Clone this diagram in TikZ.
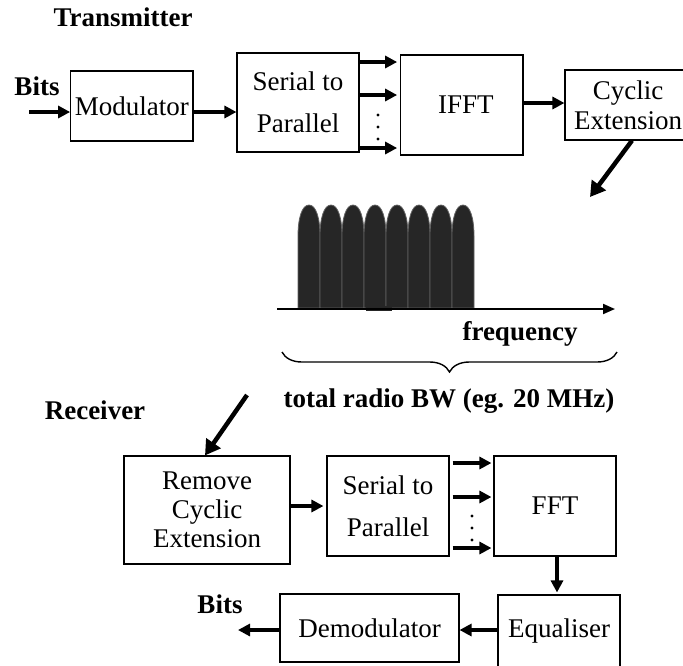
\documentclass[tikz,border=0pt]{standalone}
\usepackage{fontspec}
\setmainfont{Liberation Serif}
\usetikzlibrary{arrows.meta,decorations.pathreplacing}
\begin{document}
\begin{tikzpicture}[x=1pt,y=-1pt,
  box/.style={draw, line width=1.1pt, inner sep=0pt, align=center, font=\fontsize{27}{30}\selectfont},
  arr/.style={line width=3.5pt, -{Triangle[length=12pt,width=12pt]}},
  bigarr/.style={line width=4.5pt, -{Triangle[length=15pt,width=17pt]}},
  lbl/.style={font=\fontsize{27}{30}\selectfont\bfseries, inner sep=0pt},
  lobe/.style={fill=black!85, draw=black!62, line width=0.8pt},
  dotc/.style={fill=black},
]
\useasboundingbox (0,0) rectangle (683,665);

% ---------- Transmitter ----------
\node[lbl, anchor=base] (tx) at (123,26) {Transmitter};
\node[lbl, anchor=base] (bits1) at (37,95) {Bits};

\node[box, minimum width=122.3pt, minimum height=70pt] (mod) at (131.85,106) {Modulator};
\node[box, minimum width=122pt, minimum height=99pt, font=\fontsize{27}{42}\selectfont] (sp1) at (298,102.5) {Serial to\\Parallel};
\node[box, minimum width=122.3pt, minimum height=100pt] (ifft) at (461.85,105) {\hspace*{8pt}IFFT};
\node[box, minimum width=126pt, minimum height=70pt, font=\fontsize{27}{30}\selectfont] (cyc) at (628,105) {Cyclic\\Extension};

\coordinate (bitsin) at (29,112);
\draw[arr] (bitsin) -- (bitsin -| mod.west);
\path ([yshift=-6pt]mod.east) coordinate (m1);
\draw[arr] (m1) -- (m1 -| sp1.west);

\path ([yshift=40.5pt]sp1.east) coordinate (a1)
      ([yshift=7.5pt]sp1.east) coordinate (a2)
      ([yshift=-45.5pt]sp1.east) coordinate (a3);
\draw[arr, shorten >=3pt] (a1) -- (a1 -| ifft.west);
\draw[arr, shorten >=3pt] (a2) -- (a2 -| ifft.west);
\draw[arr, shorten >=3pt] (a3) -- (a3 -| ifft.west);
\fill[dotc] (378,115) circle (1.7pt) (378,127) circle (1.7pt) (378,139) circle (1.7pt);

\draw[arr] ([yshift=2pt]ifft.east) -- ([yshift=2pt]cyc.west);

\coordinate (spec) at (590,197);
\draw[bigarr] ([xshift=4pt]cyc.south) -- (spec);

% ---------- Spectrum ----------
\foreach \i in {0,...,7} {
  \pgfmathsetmacro\xa{298+22*\i}
  \pgfmathsetmacro\xb{\xa+22}
  \pgfmathsetmacro\xm{\xa+11}
  \path[lobe] (\xa,308) -- (\xa,236)
     .. controls (\xa,218) and (\xa+4,205) .. (\xm,205)
     .. controls (\xb-4,205) and (\xb,218) .. (\xb,236)
     -- (\xb,308) -- cycle;
}
\fill[black!85] (366,306) rectangle (392,310.5);
\coordinate (ax0) at (277,309);
\coordinate (ax1) at (615,309);
\draw[line width=2pt, -{Triangle[length=12pt,width=10pt]}] (ax0) -- (ax1);

\node[lbl, anchor=base] (freq) at (520,340) {frequency};
\coordinate (br0) at (617,352);
\coordinate (br1) at (282,352);
\draw[line width=1.4pt, decorate, decoration={brace, amplitude=20pt}] (br0) -- (br1);
\node[lbl, anchor=base] (bw) at (449,407) {total radio BW (eg. 20 MHz)};

% ---------- Receiver ----------
\node[lbl, anchor=base] (rx) at (95,419) {Receiver};

\node[box, minimum width=166pt, minimum height=108pt, font=\fontsize{27}{29}\selectfont] (rem) at (207,510) {Remove\\Cyclic\\Extension};
\node[box, minimum width=122pt, minimum height=100pt, font=\fontsize{27}{42}\selectfont] (sp2) at (388,506) {Serial to\\Parallel};
\node[box, minimum width=122pt, minimum height=100pt] (fft) at (555,506) {FFT};
\node[box, minimum width=122pt, minimum height=72pt] (eq) at (559,631) {Equaliser};
\node[box, minimum width=179pt, minimum height=68pt] (dem) at (369.5,628) {Demodulator};
\node[lbl, anchor=base] (bits2) at (220,613) {Bits};

\coordinate (rxin) at (247,395);
\draw[bigarr] (rxin) -- ([xshift=-2pt]rem.north);

\draw[arr, shorten >=3pt] (sp2.west -| rem.east) -- (sp2.west);

\path ([yshift=43pt]sp2.east) coordinate (b1)
      ([yshift=9pt]sp2.east) coordinate (b2)
      ([yshift=-42pt]sp2.east) coordinate (b3);
\draw[arr, shorten <=3pt, shorten >=2pt] (b1) -- (b1 -| fft.west);
\draw[arr, shorten <=3pt, shorten >=2pt] (b2) -- (b2 -| fft.west);
\draw[arr, shorten <=3pt, shorten >=2pt] (b3) -- (b3 -| fft.west);
\fill[dotc] (472,516) circle (1.7pt) (472,528) circle (1.7pt) (472,540) circle (1.7pt);

\draw[arr, shorten >=2pt] ([xshift=2pt]fft.south) -- ([xshift=2pt]fft.south |- eq.north);
\draw[arr] ([yshift=1pt]eq.west) -- ([yshift=1pt]eq.west -| dem.east);
\coordinate (bitsout) at (238,630);
\draw[arr] (bitsout -| dem.west) -- (bitsout);
\end{tikzpicture}
\end{document}
